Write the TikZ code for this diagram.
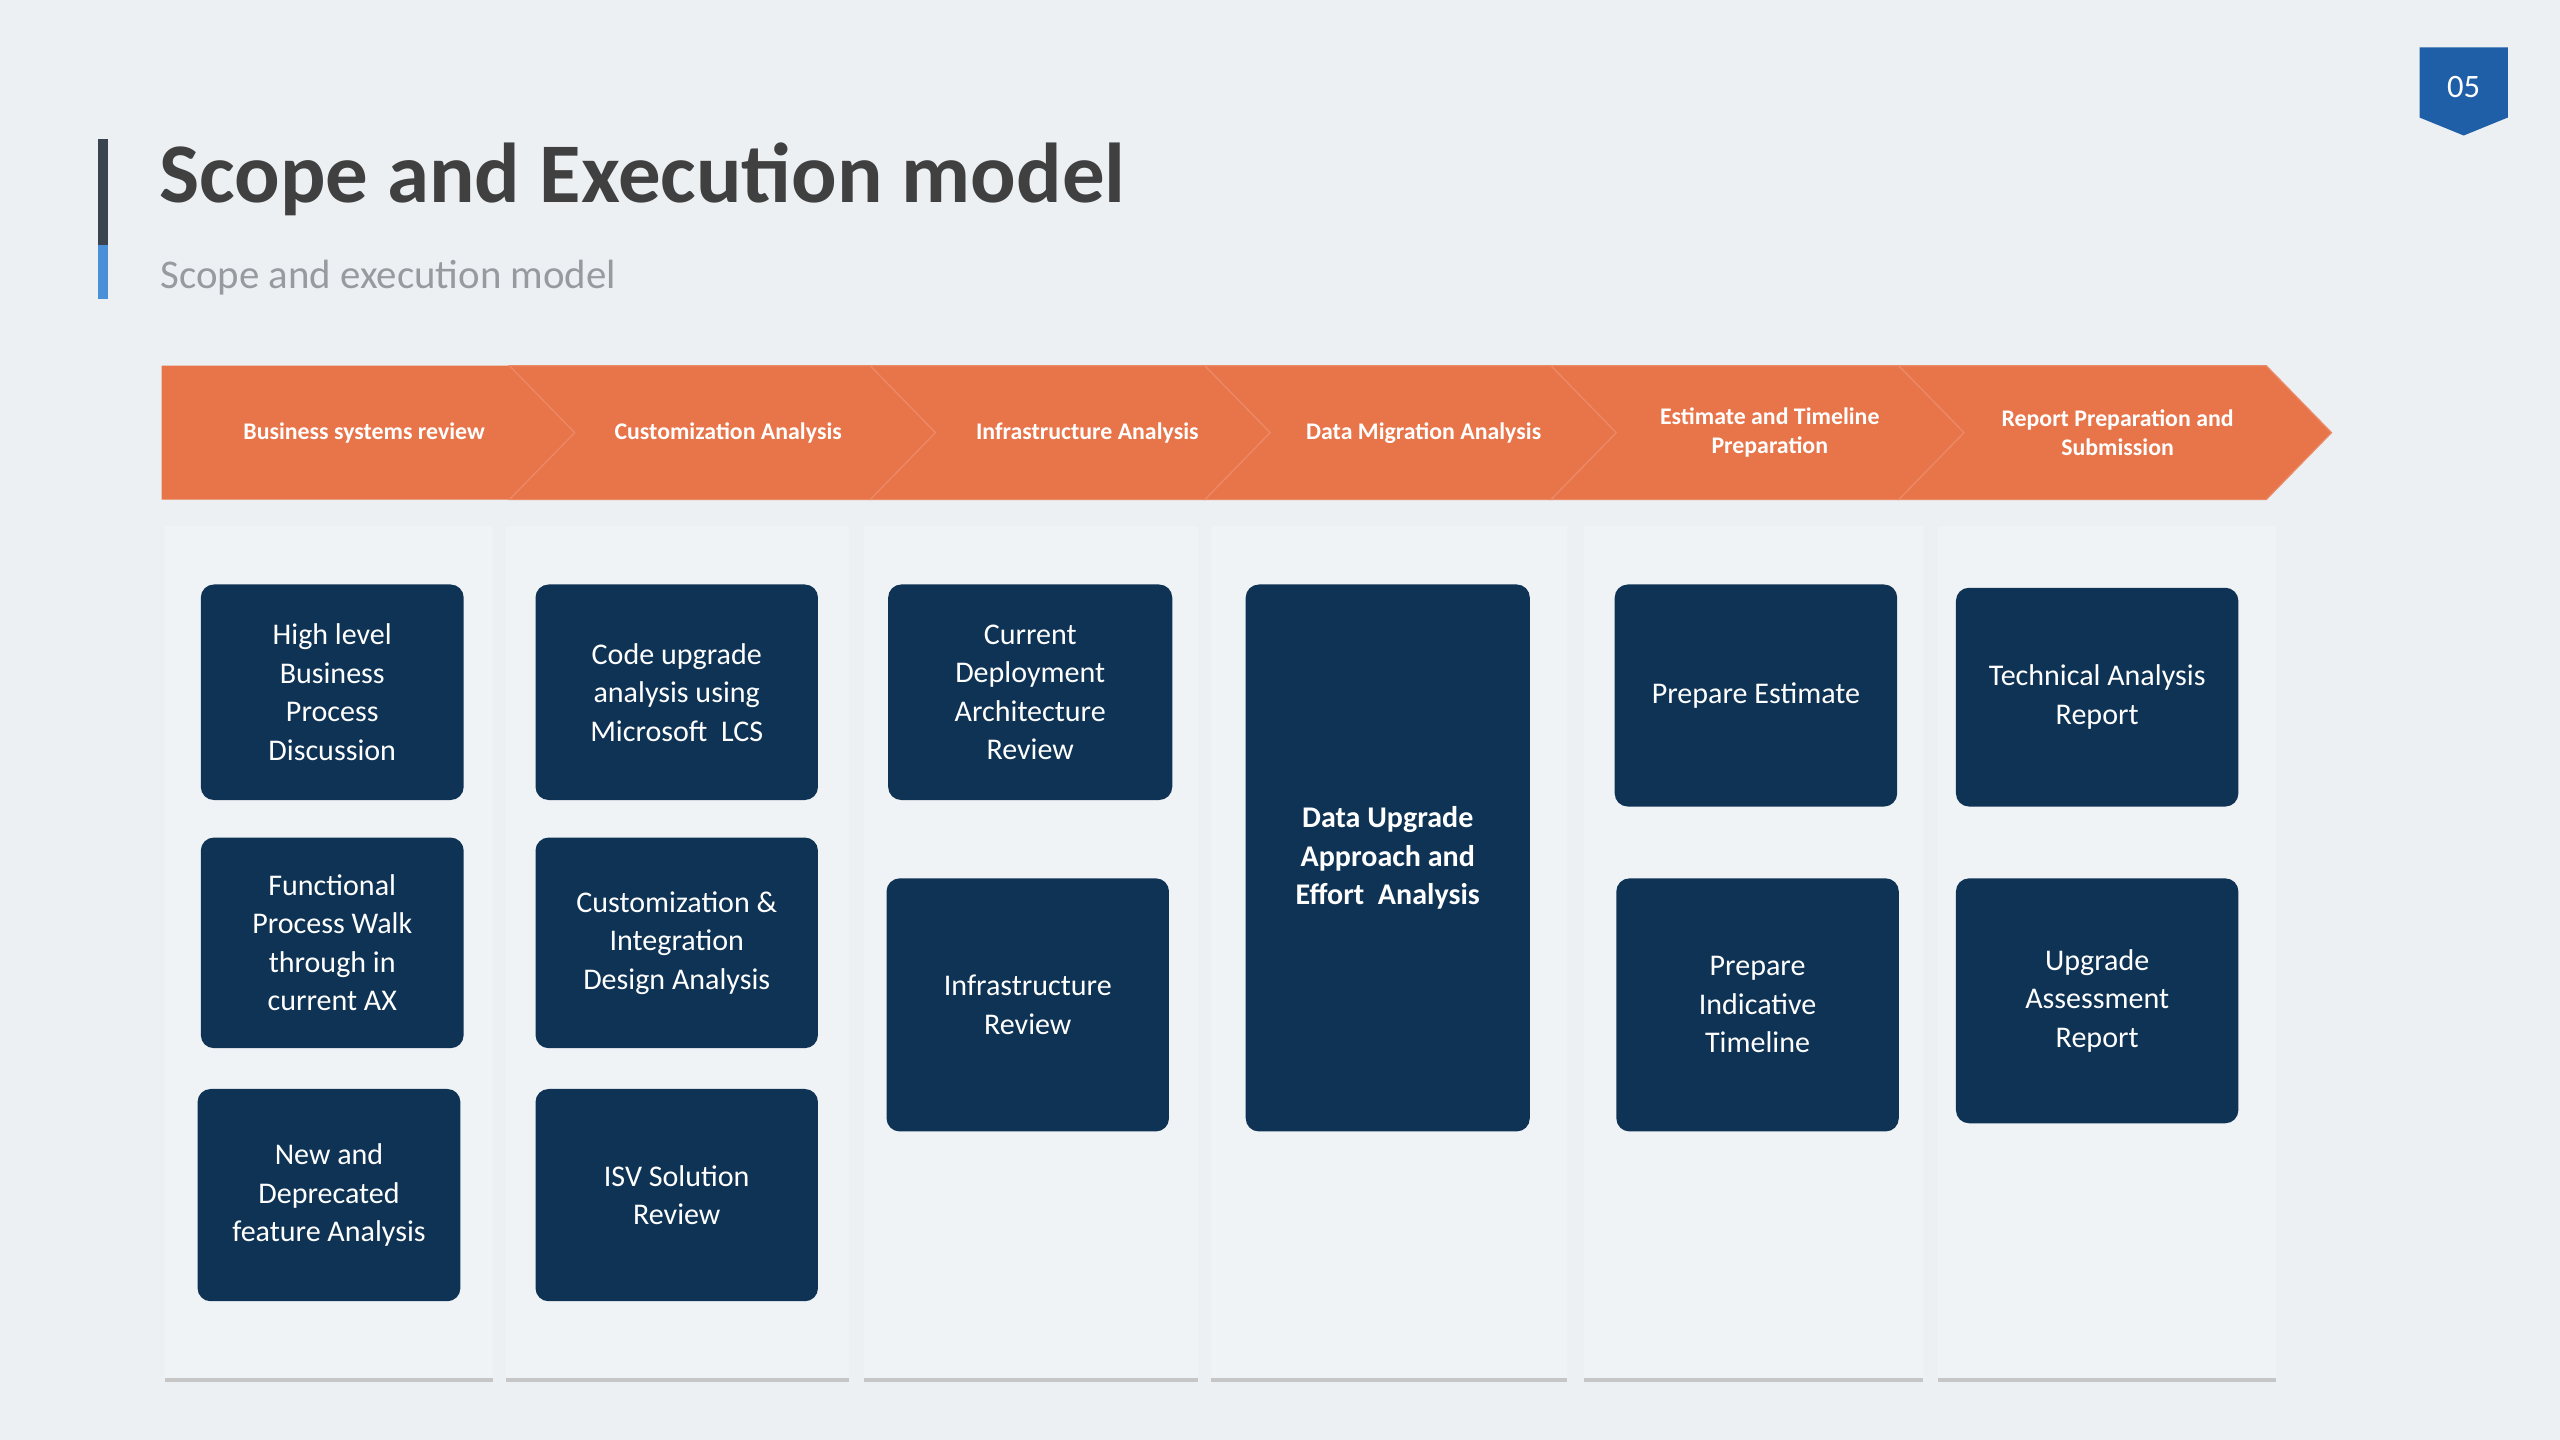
\documentclass[tikz,border=0pt]{standalone}
\usepackage{fontspec}
\setmainfont{Carlito}
\usetikzlibrary{positioning}
\definecolor{pagebg}{RGB}{236,240,243}
\definecolor{panelbg}{RGB}{240,243,246}
\definecolor{navy}{RGB}{15,51,85}
\definecolor{chev}{RGB}{232,116,74}
\definecolor{titlegray}{RGB}{64,64,64}
\definecolor{subgray}{RGB}{150,155,160}
\definecolor{barblue}{RGB}{74,144,217}
\definecolor{bardark}{RGB}{58,68,80}
\definecolor{badge}{RGB}{30,95,168}
\tikzset{
  taskbox/.style={draw=none,fill=navy,rounded corners=4pt,text=white,align=center,
    font=\fontsize{9.2}{11.8}\selectfont,inner sep=2pt},
  phase/.style={text=white,align=center,font=\bfseries\fontsize{7.3}{9}\selectfont},
  panel/.style={fill=panelbg,draw=none}
}
\begin{document}
\begin{tikzpicture}[x=0.5pt,y=0.5pt,yscale=-1]
\useasboundingbox (0,0) rectangle (1568,882);
\fill[pagebg] (0,0) rectangle (1568,882);

%Title bar
\fill[bardark] (60,85) rectangle (66,150);
\fill[barblue] (60,150) rectangle (66,183);
\node[anchor=west,inner sep=0,text=titlegray,font=\bfseries\fontsize{26}{30}\selectfont] (title) at (97,110) {Scope and Execution model};
\node[anchor=west,inner sep=0,text=subgray,font=\fontsize{12.5}{15}\selectfont] (subtitle) at (98,170) {Scope and execution model};

%Page badge
\fill[badge] (1482,29) -- (1536,29) -- (1536,72) -- (1509,83) -- (1482,72) -- cycle;
\node[text=white,font=\fontsize{10}{12}\selectfont] (page) at (1509,53) {05};

%Chevrons
\fill[chev] (99,224) -- (312,224) -- (352,265) -- (312,306) -- (99,306) -- cycle;
\foreach \a/\b in {312/533,533/738,738/950,950/1163,1163/1388}
  \draw[chev!85!white,fill=chev,line width=0.4pt] (\a,224) -- (\b,224) -- (\b+40,265) -- (\b,306) -- (\a,306) -- (\a+40,265) -- cycle;
\node[phase] (ph1) at (223,265) {Business systems review};
\node[phase] (ph2) at (446,265) {Customization Analysis};
\node[phase] (ph3) at (666,265) {Infrastructure Analysis};
\node[phase] (ph4) at (872,265) {Data Migration Analysis};
\node[phase] (ph5) at (1084,265) {Estimate and Timeline\\Preparation};
\node[phase] (ph6) at (1297,265) {Report Preparation and\\Submission};

%Column panels
\foreach \a/\b in {101/302,310/520,529/734,742/960,970/1178,1187/1394}{
  \fill[panel] (\a,322) rectangle (\b,845);
  \draw[gray!45,line width=1.2pt] (\a,845) -- (\b,845);
}

%Tasks
\node[taskbox,minimum width=80.5pt,minimum height=66pt] (t11) at (203.5,424) {High level\\Business\\Process\\Discussion};
\node[taskbox,minimum width=80.5pt,minimum height=64.5pt] (t12) at (203.5,577.5) {Functional\\Process Walk\\through in\\current AX};
\node[taskbox,minimum width=80.5pt,minimum height=65pt] (t13) at (201.5,732) {New and\\Deprecated\\feature Analysis};

\node[taskbox,minimum width=86.5pt,minimum height=66pt] (t21) at (414.5,424) {Code upgrade\\analysis using\\Microsoft~ LCS};
\node[taskbox,minimum width=86.5pt,minimum height=64.5pt] (t22) at (414.5,577.5) {Customization \&\\Integration\\Design Analysis};
\node[taskbox,minimum width=86.5pt,minimum height=65pt] (t23) at (414.5,732) {ISV Solution\\Review};

\node[taskbox,minimum width=87pt,minimum height=66pt] (t31) at (631,424) {Current\\Deployment\\Architecture\\Review};
\node[taskbox,minimum width=86.5pt,minimum height=77.5pt] (t32) at (629.5,615.5) {Infrastructure\\Review};

\node[taskbox,font=\bfseries\fontsize{9.2}{11.8}\selectfont,minimum width=87pt,minimum height=167.5pt] (t41) at (850,525.5) {Data Upgrade\\Approach and\\Effort~ Analysis};

\node[taskbox,minimum width=86.5pt,minimum height=68pt] (t51) at (1075.5,426) {Prepare Estimate};
\node[taskbox,minimum width=86.5pt,minimum height=77.5pt] (t52) at (1076.5,615.5) {Prepare\\Indicative\\Timeline};

\node[taskbox,minimum width=86.5pt,minimum height=67pt] (t61) at (1284.5,427) {Technical Analysis\\Report};
\node[taskbox,minimum width=86.5pt,minimum height=75pt] (t62) at (1284.5,613) {Upgrade\\Assessment\\Report};

\end{tikzpicture}
\end{document}
